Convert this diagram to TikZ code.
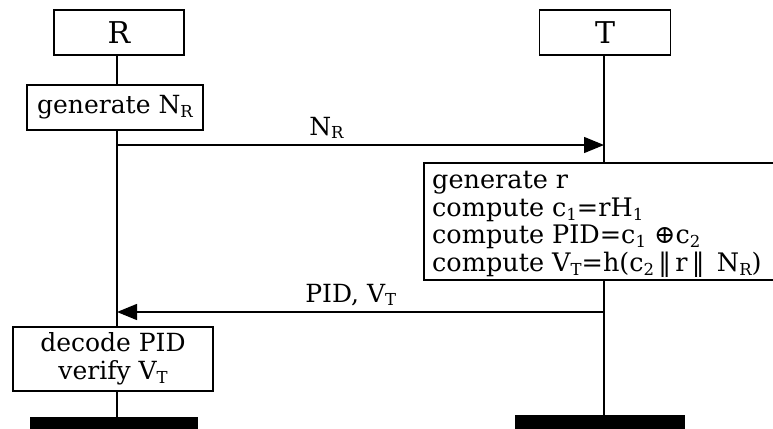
\documentclass[tikz,border=0pt]{standalone}
\usepackage{fontspec}
\setmainfont{DejaVu Serif}
\usetikzlibrary{arrows.meta}
\newcommand\lowidx[1]{\raisebox{-0.3ex}{\fontsize{16.5}{16.5}\selectfont #1}}
\tikzset{
  box/.style={draw, line width=1.6pt, inner sep=0pt, font=\fontsize{25}{25}\selectfont},
  party/.style={box, font=\fontsize{30}{30}\selectfont},
  life/.style={line width=1.6pt},
  msg/.style={line width=1.4pt, -{Triangle[length=20pt,width=16pt]}},
  lbl/.style={font=\fontsize{25}{25}\selectfont},
  bar/.style={fill=black, draw=none, inner sep=0pt}
}
\begin{document}
\begin{tikzpicture}[x=1pt,y=-1pt]
\useasboundingbox (0,0) rectangle (773,428);
% participants
\node[party, minimum width=130pt, minimum height=45pt] (R) at (119,32.5) {R};
\node[party, minimum width=131pt, minimum height=45pt] (T) at (605,32.5) {T};
% actions
\node[box, minimum width=176pt, minimum height=45pt] (gen) at (115,107.5) {generate N\lowidx{R}};
\node[box, anchor=north west, minimum width=370pt, minimum height=117pt] (comp) at (423,162) {};
\node[anchor=north west, align=left, inner sep=0pt,
      font=\fontsize{25.5}{27.5}\selectfont] (compText) at (432,171)
  {generate r\\
   compute c\lowidx{1}=rH\lowidx{1}\\
   compute PID=c\lowidx{1} ⊕c\lowidx{2}\\
   compute V\lowidx{T}=h(c\lowidx{2}\,‖\,r\,‖\, N\lowidx{R})};
\node[box, minimum width=200pt, minimum height=64pt, align=center,
      font=\fontsize{25}{28}\selectfont] (dec) at (113,359)
  {decode PID\\verify V\lowidx{T}};
% lifeline ends
\node[bar, anchor=north, minimum width=168pt, minimum height=14pt] (endR) at (114,417) {};
\node[bar, anchor=north, minimum width=170pt, minimum height=16pt] (endT) at (600,415) {};
% lifeline points
\coordinate (rx) at (117,0);
\coordinate (tx) at (604,0);
\coordinate (m1R) at (117,145);
\coordinate (m1T) at (604,145);
\coordinate (m2R) at (117,312);
\coordinate (m2T) at (604,312);
% lifelines
\draw[life] (R.south -| rx) -- (gen.north -| rx);
\draw[life] (gen.south -| rx) -- (dec.north -| rx);
\draw[life] (dec.south -| rx) -- (endR.north -| rx);
\draw[life] (T.south -| tx) -- (comp.north -| tx);
\draw[life] (comp.south -| tx) -- (endT.north -| tx);
% messages
\draw[msg] (m1R) -- node[lbl, above=2pt, pos=0.43] {N\lowidx{R}} (m1T);
\draw[msg] (m2T) -- node[lbl, above=2pt, pos=0.52] {PID, V\lowidx{T}} (m2R);
\end{tikzpicture}
\end{document}
